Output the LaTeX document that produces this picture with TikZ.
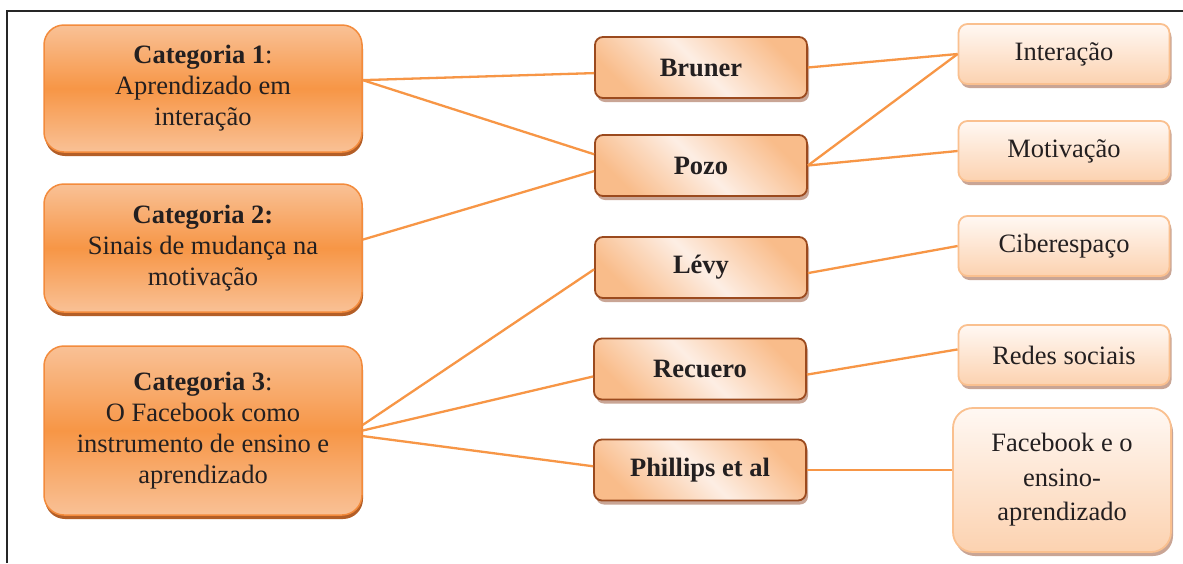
\documentclass[tikz,border=0pt]{standalone}
\usepackage{fontspec}
\setmainfont{Liberation Serif}
\usetikzlibrary{shadows}
\definecolor{orMid}{HTML}{F79646}
\definecolor{orLight}{HTML}{F9C196}
\definecolor{orBorder}{HTML}{F38B3C}
\definecolor{catShadow}{HTML}{B35E27}
\definecolor{midBorder}{HTML}{9B4A1E}
\definecolor{midOr}{HTML}{F9BC8A}
\definecolor{midWhite}{HTML}{FDEEE4}
\definecolor{tanShadow}{HTML}{C9A595}
\definecolor{rBorder}{HTML}{FAC08F}
\definecolor{rTop}{HTML}{FFF8F3}
\definecolor{rBot}{HTML}{FCD2B0}
\definecolor{txtCol}{HTML}{231F20}
\definecolor{connCol}{HTML}{F79646}
\newcommand\diagfont{\fontsize{26.5}{31}\selectfont}
\tikzset{
  catbox/.style={draw=orBorder, line width=1.5pt, rounded corners=20pt,
    top color=orLight, bottom color=orLight, middle color=orMid,
    minimum width=318pt, inner sep=0pt, align=center, text=txtCol, font=\diagfont,
    drop shadow={shadow xshift=1pt, shadow yshift=-4pt, fill=catShadow, opacity=1}},
  midbox/.style={draw=midBorder, line width=1.8pt, rounded corners=8pt,
    left color=midOr, right color=midOr, middle color=midWhite, shading angle=-45,
    minimum width=212pt, minimum height=61pt, inner sep=0pt, text=txtCol,
    font=\diagfont\bfseries,
    drop shadow={shadow xshift=2pt, shadow yshift=-4pt, fill=tanShadow, opacity=1}},
  rbox/.style={draw=rBorder, line width=1.8pt, rounded corners=9pt,
    top color=rTop, bottom color=rBot,
    minimum width=211pt, minimum height=60pt, inner sep=0pt, text=txtCol,
    font=\diagfont, align=center,
    drop shadow={shadow xshift=2pt, shadow yshift=-4pt, fill=tanShadow, opacity=1}},
  conn/.style={draw=connCol, line width=2.3pt}
}
\begin{document}
\begin{tikzpicture}[x=1pt,y=-1pt]
\useasboundingbox (0,0) rectangle (1183,563);
\fill[white] (0,0) rectangle (1183,563);
\draw[line width=1.8pt, black!85] (7,563) -- (7,11) -- (1183,11);

% category boxes
\node[catbox, minimum height=127pt] (cat1) at (203,88.5)
  {\textbf{Categoria 1}:\\Aprendizado em\\interação};
\node[catbox, minimum height=128pt] (cat2) at (203,248)
  {\textbf{Categoria 2:}\\Sinais de mudança na\\motivação};
\node[catbox, minimum height=169pt] (cat3) at (203,430.5)
  {\textbf{Categoria 3}:\\O Facebook como\\instrumento de ensino e\\aprendizado};

% authors
\node[midbox] (bruner) at (701,67.5) {Bruner};
\node[midbox] (pozo) at (701,165.5) {Pozo};
\node[midbox] (levy) at (701,267.5) {Lévy};
\node[midbox] (recuero) at (700,369) {Recuero};
\node[midbox] (phillips) at (700,470) {Phillips et al};

% themes
\node[rbox] (interacao) at (1064,54) {Interação};
\node[rbox] (motivacao) at (1064,151) {Motivação};
\node[rbox] (ciber) at (1064,246) {Ciberespaço};
\node[rbox] (redes) at (1064,355) {Redes sociais};
\node[rbox, rounded corners=20pt, minimum width=218pt, minimum height=144pt,
  font=\fontsize{26.5}{34.5}\selectfont] (fb) at (1062,480)
  {Facebook e o\\ensino-\\aprendizado};

% connectors
\draw[conn] (cat1.3) -- (bruner.183);
\draw[conn] (cat1.3) -- (pozo.174);
\draw[conn] (cat2.3) -- (pozo.183);
\draw[conn] (cat3.2) -- (levy.181);
\draw[conn] (cat3.east) -- (recuero.184);
\draw[conn] (cat3.-2) -- (phillips.178);
\draw[conn] (bruner.east) -- (interacao.west);
\draw[conn] (pozo.east) -- (interacao.west);
\draw[conn] (pozo.east) -- (motivacao.west);
\draw[conn] (levy.-3) -- (ciber.west);
\draw[conn] (recuero.-3) -- (redes.177);
\draw[conn] (phillips.east) -- (phillips.east -| fb.west);
\end{tikzpicture}
\end{document}
